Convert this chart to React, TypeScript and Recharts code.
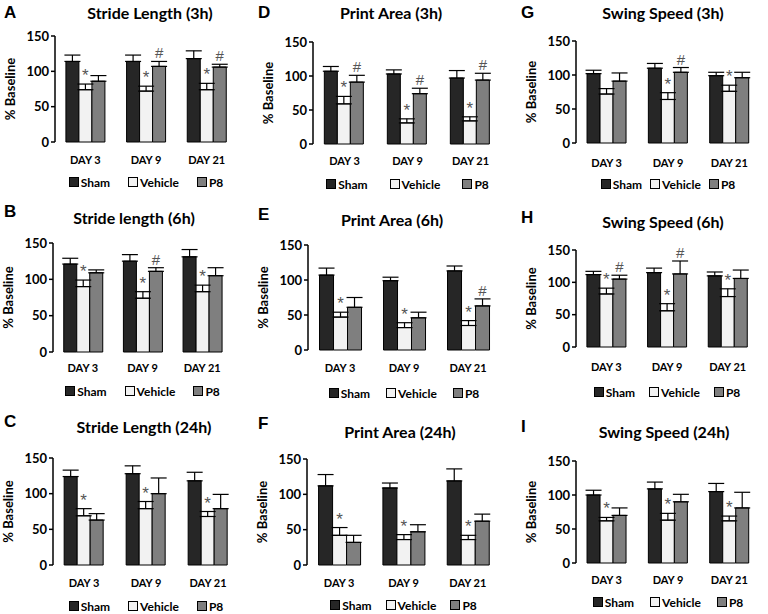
import { BarChart, Bar, XAxis, YAxis, ErrorBar, LabelList, Legend } from 'recharts';

// categories and groups shared by all nine panels
const days = ['DAY 3', 'DAY 9', 'DAY 21'];
const groups = ['Sham', 'Vehicle', 'P8'];
const groupKeys = ['sham', 'vehicle', 'p8'];
const groupFill = ['#262626', '#f2f2f2', '#7f7f7f'];
const yTicks = [0, 50, 100, 150];

// rows = days, columns = Sham / Vehicle / P8 (% of baseline)
const strideLength3hMeans = [[114, 74, 86], [114, 72, 107], [118, 74, 106]];
const strideLength3hSem = [[9, 8, 8], [9, 7, 7], [11, 9, 4]];
const strideLength3hMarks = [['', '*', ''], ['', '*', '#'], ['', '*', '#']];

const strideLength6hMeans = [[121, 90, 109], [125, 74, 111], [131, 83, 105]];
const strideLength6hSem = [[8, 9, 4], [9, 9, 5], [10, 9, 11]];
const strideLength6hMarks = [['', '*', ''], ['', '*', '#'], ['', '*', '']];

const strideLength24hMeans = [[124, 69, 63], [128, 79, 100], [118, 68, 79]];
const strideLength24hSem = [[9, 10, 9], [11, 10, 22], [12, 7, 20]];
const strideLength24hMarks = [['', '*', ''], ['', '*', ''], ['', '*', '']];

const printArea3hMeans = [[107, 59, 91], [103, 31, 74], [97, 34, 94]];
const printArea3hSem = [[7, 11, 10], [6, 6, 8], [11, 6, 10]];
const printArea3hMarks = [['', '*', '#'], ['', '*', '#'], ['', '*', '#']];

const printArea6hMeans = [[107, 47, 61], [99, 32, 46], [113, 35, 63]];
const printArea6hSem = [[10, 7, 14], [5, 7, 8], [7, 7, 10]];
const printArea6hMarks = [['', '*', ''], ['', '*', ''], ['', '*', '#']];

const printArea24hMeans = [[112, 42, 32], [109, 36, 47], [119, 36, 62]];
const printArea24hSem = [[16, 11, 10], [7, 7, 10], [17, 6, 10]];
const printArea24hMarks = [['', '*', ''], ['', '*', ''], ['', '*', '']];

const swingSpeed3hMeans = [[102, 72, 91], [110, 64, 104], [99, 76, 96]];
const swingSpeed3hSem = [[5, 8, 12], [7, 10, 7], [5, 9, 8]];
const swingSpeed3hMarks = [['', '', ''], ['', '*', '#'], ['', '*', '']];

const swingSpeed6hMeans = [[112, 82, 105], [115, 56, 113], [110, 78, 106]];
const swingSpeed6hSem = [[5, 9, 6], [7, 11, 20], [6, 12, 13]];
const swingSpeed6hMarks = [['', '*', '#'], ['', '*', '#'], ['', '*', '']];

const swingSpeed24hMeans = [[100, 62, 70], [109, 63, 90], [105, 62, 81]];
const swingSpeed24hSem = [[7, 5, 11], [10, 10, 11], [12, 7, 23]];
const swingSpeed24hMarks = [['', '*', ''], ['', '*', ''], ['', '*', '']];

const FONT = 'Lato, "Open Sans", sans-serif';

type Panel = {
  letter: string;
  title: string;
  means: number[][];
  sem: number[][];
  marks: string[][];
  axisX: number;
  top: number;
  bottom: number;
  endX: number;
  catY: number;
  legY: number;
  titleX: number;
  titleY: number;
  letterX: number;
  letterY: number;
  legendGap: number;
};

const panels: Panel[] = [
  { letter: 'A', title: 'Stride Length (3h)', means: strideLength3hMeans, sem: strideLength3hSem, marks: strideLength3hMarks,
    axisX: 55, top: 36, bottom: 142, endX: 237, catY: 160, legY: 182, titleX: 150, titleY: 13, letterX: 4, letterY: 12, legendGap: 18 },
  { letter: 'B', title: 'Stride length (6h)', means: strideLength6hMeans, sem: strideLength6hSem, marks: strideLength6hMarks,
    axisX: 53, top: 243, bottom: 352, endX: 232, catY: 368, legY: 391, titleX: 134, titleY: 218, letterX: 4, letterY: 211, legendGap: 18 },
  { letter: 'C', title: 'Stride Length (24h)', means: strideLength24hMeans, sem: strideLength24hSem, marks: strideLength24hMarks,
    axisX: 53, top: 458, bottom: 565, endX: 239, catY: 583, legY: 606, titleX: 144, titleY: 427, letterX: 4, letterY: 421, legendGap: 18 },
  { letter: 'D', title: 'Print Area (3h)', means: printArea3hMeans, sem: printArea3hSem, marks: printArea3hMarks,
    axisX: 313, top: 42, bottom: 144, endX: 502, catY: 161, legY: 184, titleX: 391, titleY: 13, letterX: 258, letterY: 12, legendGap: 22 },
  { letter: 'E', title: 'Print Area (6h)', means: printArea6hMeans, sem: printArea6hSem, marks: printArea6hMarks,
    axisX: 308, top: 245, bottom: 350, endX: 500, catY: 368, legY: 393, titleX: 392, titleY: 220, letterX: 258, letterY: 214, legendGap: 16 },
  { letter: 'F', title: 'Print Area (24h)', means: printArea24hMeans, sem: printArea24hSem, marks: printArea24hMarks,
    axisX: 307, top: 459, bottom: 565, endX: 500, catY: 583, legY: 605, titleX: 400, titleY: 432, letterX: 258, letterY: 423, legendGap: 14 },
  { letter: 'G', title: 'Swing Speed (3h)', means: swingSpeed3hMeans, sem: swingSpeed3hSem, marks: swingSpeed3hMarks,
    axisX: 576, top: 41, bottom: 143, endX: 760, catY: 163, legY: 184, titleX: 663, titleY: 13, letterX: 521, letterY: 12, legendGap: 8 },
  { letter: 'H', title: 'Swing Speed (6h)', means: swingSpeed6hMeans, sem: swingSpeed6hSem, marks: swingSpeed6hMarks,
    axisX: 576, top: 250, bottom: 347, endX: 758, catY: 367, legY: 392, titleX: 663, titleY: 222, letterX: 521, letterY: 217, legendGap: 14 },
  { letter: 'I', title: 'Swing Speed (24h)', means: swingSpeed24hMeans, sem: swingSpeed24hSem, marks: swingSpeed24hMarks,
    axisX: 576, top: 461, bottom: 563, endX: 760, catY: 580, legY: 602, titleX: 664, titleY: 432, letterX: 521, letterY: 426, legendGap: 16 },
];

const Y_W = 52;

// "*" / "#" above the error bar of a bar
const markRenderer = (p: Panel, col: number) => (props: any) => {
  const { x, y, width, height, index, value } = props;
  const m = p.marks[index]?.[col];
  if (!m) return null;
  const perUnit = Number(height) / Number(value);
  const errTop = Number(y) - p.sem[index][col] * perUnit;
  return (
    <text x={Number(x) + Number(width) / 2} y={errTop - 3} textAnchor="middle"
      fontSize={m === '*' ? 17 : 15} fill="#555" fontFamily='"Liberation Sans", Arial, sans-serif'>
      {m}
    </text>
  );
};

const legendContent = (gap: number) => () => (
  <div style={{ display: 'flex', justifyContent: 'center', alignItems: 'center', gap, height: 16, fontFamily: FONT, fontSize: 12, fontWeight: 700 }}>
    {groups.map((g, i) => (
      <div key={g} style={{ display: 'flex', alignItems: 'center' }}>
        <span style={{ width: 8, height: 8, border: '1px solid #000', background: groupFill[i], marginRight: 2, display: 'inline-block' }} />
        <span>{g}</span>
      </div>
    ))}
  </div>
);

const PanelChart = ({ p }: { p: Panel }) => {
  const data = days.map((day, i) => ({
    day,
    sham: p.means[i][0],
    shamErr: [0, p.sem[i][0]],
    vehicle: p.means[i][1],
    vehicleErr: [0, p.sem[i][1]],
    p8: p.means[i][2],
    p8Err: [0, p.sem[i][2]],
  }));
  const chartLeft = p.axisX - Y_W;
  const chartTop = p.top - 10;
  const width = p.endX + 6 - chartLeft;
  const height = p.legY + 8 - chartTop;
  const catH = p.legY - 8 - p.bottom;
  const plotW = p.endX - p.axisX;

  return (
    <>
      <div style={{ position: 'absolute', left: p.letterX, top: p.letterY, transform: 'translateY(-50%)', fontFamily: '"Liberation Sans", Arial, sans-serif', fontWeight: 700, fontSize: 17, lineHeight: 1 }}>
        {p.letter}
      </div>
      <div style={{ position: 'absolute', left: p.titleX, top: p.titleY, transform: 'translate(-50%, -50%)', fontFamily: FONT, fontWeight: 700, fontSize: 16, lineHeight: 1, whiteSpace: 'nowrap' }}>
        {p.title}
      </div>
      <div style={{ position: 'absolute', left: chartLeft, top: chartTop }}>
        <BarChart width={width} height={height} data={data} margin={{ top: 10, right: 6, bottom: 0, left: 0 }}
          barGap={0} barCategoryGap="18%">
          <XAxis xAxisId="edge" type="number" domain={[0, 3]} ticks={[0, 1, 2, 3]} allowDataOverflow
            tick={false} tickSize={5} height={0} axisLine={{ stroke: '#000', strokeWidth: 1.5 }} tickLine={{ stroke: '#000', strokeWidth: 1.5 }} />
          <XAxis xAxisId="cat" dataKey="day" type="category" interval={0} axisLine={false} tickLine={false}
            tickSize={0} tickMargin={p.catY - 4 - p.bottom} height={catH}
            tick={{ fill: '#000', fontSize: 11, fontWeight: 700, fontFamily: FONT }} />
          <YAxis domain={[0, 150]} ticks={yTicks} width={Y_W} tickSize={4} tickMargin={2}
            axisLine={{ stroke: '#000', strokeWidth: 1.5 }} tickLine={{ stroke: '#000', strokeWidth: 1.5 }}
            tick={{ fill: '#000', fontSize: 13, fontWeight: 700, fontFamily: FONT }}
            label={{ value: '% Baseline', angle: -90, position: 'insideLeft', offset: 7,
              style: { textAnchor: 'middle', fill: '#000', fontSize: 13, fontWeight: 700, fontFamily: FONT } }} />
          <Legend verticalAlign="bottom" content={legendContent(p.legendGap)}
            wrapperStyle={{ left: Y_W, width: plotW, height: 16, bottom: 0 }} />
          {groupKeys.map((k, col) => (
            <Bar key={k} xAxisId="cat" dataKey={k} fill={groupFill[col]} stroke="#000" strokeWidth={1} isAnimationActive={false}>
              <ErrorBar dataKey={`${k}Err`} width={8} stroke="#000" strokeWidth={1.2} direction="y" isAnimationActive={false} />
              <LabelList dataKey={k} content={markRenderer(p, col)} />
            </Bar>
          ))}
        </BarChart>
      </div>
    </>
  );
};

export default function App() {
  return (
    <div style={{ position: 'absolute', left: 0, top: 0, width: 768, height: 614, background: '#fff' }}>
      {panels.map((p) => (
        <PanelChart key={p.letter} p={p} />
      ))}
    </div>
  );
}
